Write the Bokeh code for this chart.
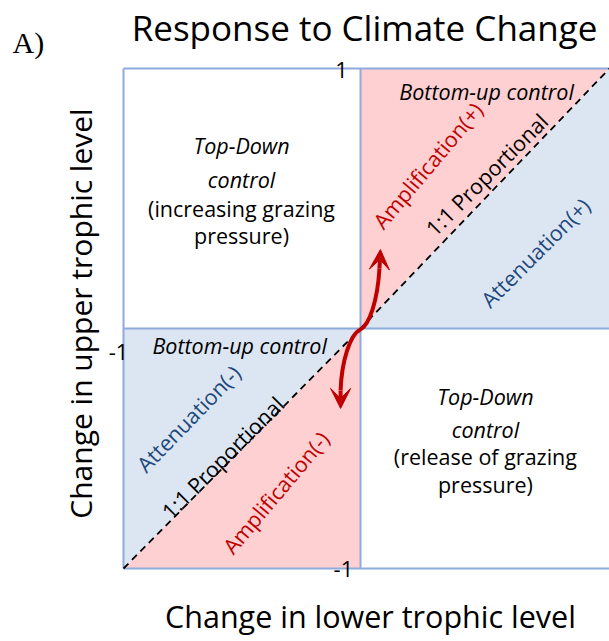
import math
from bokeh.plotting import figure
from bokeh.models import Range1d, Arrow, VeeHead, ColumnDataSource
from bokeh.core.properties import value
from bokeh.embed import file_html
from bokeh.resources import INLINE

# ---------------- data ----------------
title_text = "Response to Climate Change"
panel_tag = "A)"
x_label = "Change in lower trophic level"
y_label = "Change in upper trophic level"

# box extent (data units, quadrant boundaries at 0)
x_min, x_max = -1.0, 1.05
y_min, y_max = -1.0, 1.083

# tick labels
tick_labels = ["1", "-1", "-1"]
tick_x = [-0.080, -1.021, -0.072]
tick_y = [1.076, -0.0967, -1.001]

# shaded regions
pink_xs = [[0, 0, x_max], [x_min, 0, 0]]
pink_ys = [[0, y_max, y_max], [y_min, 0, y_min]]
blue_xs = [[0, x_max, x_max], [x_min, x_min, 0]]
blue_ys = [[0, y_max, 0], [y_min, 0, 0]]

# 1:1 line
diag_x = [x_min, 0, x_max]
diag_y = [y_min, 0, y_max]

# box lines
box_xs = [[x_min, x_min], [x_min, x_max], [x_min, x_max], [0, 0], [x_min, x_max]]
box_ys = [[y_min, y_max], [y_max, y_max], [y_min, y_min], [y_min, y_max], [0, 0]]

# quadrant texts
ul_lines = ["Top-Down", "control", "(increasing grazing", "pressure)"]
ul_styles = ["italic", "italic", "normal", "normal"]
ul_x = [-0.502] * 4
ul_y = [0.762, 0.621, 0.502, 0.389]

lr_lines = ["Top-Down", "control", "(release of grazing", "pressure)"]
lr_styles = ["italic", "italic", "normal", "normal"]
lr_x = [0.527] * 4
lr_y = [-0.2854, -0.4229, -0.5354, -0.6521]

bu_text = ["Bottom-up control", "Bottom-up control"]
bu_x = [0.532, -0.510]
bu_y = [0.9896, -0.0729]

# rotated labels
rot_text = ["Amplification(+)", "1:1 Proportional", "Attenuation(+)",
            "Attenuation(-)", "1:1 Proportional", "Amplification(-)"]
rot_x = [0.283, 0.532, 0.737, -0.726, -0.582, -0.358]
rot_y = [0.680, 0.642, 0.317, -0.375, -0.5375, -0.683]
rot_deg = [50, 45, 45, 46, 45, 50]
rot_color = ["#C00000", "#000000", "#1F497D", "#1F497D", "#000000", "#C00000"]

# curved double arrow (two cubic beziers from centre)
arr_x0 = [0.0, 0.0]
arr_y0 = [-0.004, -0.004]
arr_cx0 = [0.038, -0.046]
arr_cy0 = [0.0167, -0.025]
arr_cx1 = [0.072, -0.080]
arr_cy1 = [0.117, -0.142]
arr_x1 = [0.080, -0.084]
arr_y1 = [0.25, -0.258]
tip_x = [0.084, -0.084]
tip_y = [0.329, -0.333]

# outer texts
outer_text = [title_text, x_label, y_label]
outer_x = [0.017, 0.042, -1.183]
outer_y = [1.2542, -1.199, 0.0625]
outer_size = ["35px", "30.5px", "30px"]
outer_angle = [0.0, 0.0, math.pi / 2]

# ---------------- styles ----------------
PINK = "#FFD0D2"
BLUE = "#DCE6F2"
LINE = "#8FAADC"
RED = "#C00000"
FONT = "Open Sans"

p = figure(width=609, height=641,
           x_range=Range1d(-1.519, 1.0506), y_range=Range1d(-1.3042, 1.3667),
           x_axis_type=None, y_axis_type=None,
           min_border_left=0, min_border_right=0,
           min_border_top=0, min_border_bottom=0,
           toolbar_location=None, output_backend="svg")
p.grid.visible = False
p.outline_line_color = None
p.background_fill_color = "white"
p.border_fill_color = "white"

p.patches(pink_xs, pink_ys, fill_color=PINK, line_color=None)
p.patches(blue_xs, blue_ys, fill_color=BLUE, line_color=None)
p.multi_line(box_xs, box_ys, line_color=LINE, line_width=2)
p.line(diag_x, diag_y, line_color="black", line_width=1.8, line_dash="7 5")

def add_text(xs, ys, texts, styles, color="black", size="21.5px"):
    src = ColumnDataSource(dict(x=xs, y=ys, text=texts, style=styles))
    p.text("x", "y", text="text", source=src, text_align="center",
           text_baseline="middle", text_font=value(FONT),
           text_font_size=value(size), text_font_style="style",
           text_color=color)

add_text(ul_x, ul_y, ul_lines, ul_styles)
add_text(lr_x, lr_y, lr_lines, lr_styles)
add_text(bu_x, bu_y, bu_text, ["italic", "italic"])

rsrc = ColumnDataSource(dict(x=rot_x, y=rot_y, text=rot_text,
                             angle=[math.radians(a) for a in rot_deg],
                             color=rot_color))
p.text("x", "y", text="text", angle="angle", text_color="color", source=rsrc,
       text_align="center", text_baseline="middle", text_font=value(FONT),
       text_font_size=value("21.5px"))

p.bezier(x0=arr_x0, y0=arr_y0, x1=arr_x1, y1=arr_y1,
         cx0=arr_cx0, cy0=arr_cy0, cx1=arr_cx1, cy1=arr_cy1,
         line_color=RED, line_width=4)
for i in range(2):
    p.add_layout(Arrow(x_start=arr_x1[i], y_start=arr_y1[i],
                       x_end=tip_x[i], y_end=tip_y[i],
                       line_color=RED, line_width=4,
                       end=VeeHead(size=20, fill_color=RED, line_color=RED)))

p.text(tick_x, tick_y, text=tick_labels, text_align="center",
       text_baseline="middle", text_font=value(FONT),
       text_font_size=value("22px"), text_color="black")

osrc = ColumnDataSource(dict(x=outer_x, y=outer_y, text=outer_text,
                             size=outer_size, angle=outer_angle))
p.text("x", "y", text="text", angle="angle", text_font_size="size",
       source=osrc, text_align="center", text_baseline="middle",
       text_font=value(FONT), text_color="black")

p.text([-1.468], [1.19], text=[panel_tag], text_align="left",
       text_baseline="middle", text_font=value("Liberation Serif"),
       text_font_size=value("30px"), text_color="black")

open("out.html", "w").write(file_html(p, INLINE))
